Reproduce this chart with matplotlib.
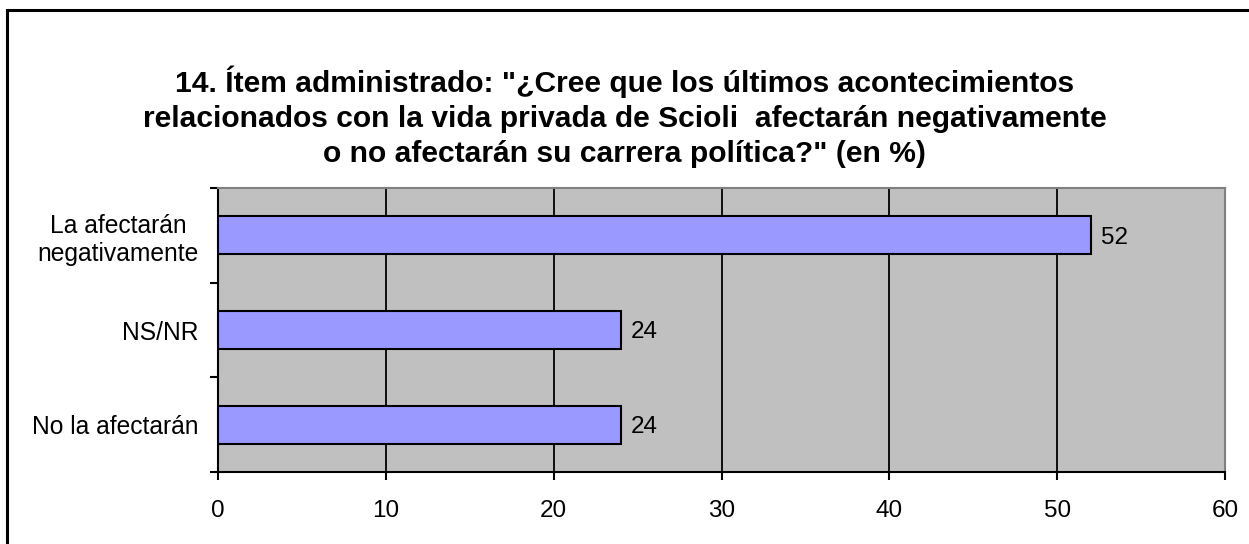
import matplotlib
matplotlib.use("Agg")
import matplotlib.pyplot as plt
from matplotlib.patches import Rectangle

plt.rcParams['font.family'] = ['Liberation Sans', 'DejaVu Sans']

categories = ["No la afectarán", "NS/NR", "La afectarán\nnegativamente"]
values = [24, 24, 52]
xticks = [0, 10, 20, 30, 40, 50, 60]

title = ('14. Ítem administrado: "¿Cree que los últimos acontecimientos\n'
         'relacionados con la vida privada de Scioli  afectarán negativamente\n'
         'o no afectarán su carrera política?" (en %)')

fig = plt.figure(figsize=(12.49, 5.44), dpi=100)
ax = fig.add_axes([218 / 1249, 72 / 544, 1007 / 1249, 284 / 544])

# marco exterior del grafico (solo se ven arriba e izquierda)
fig.patches.append(Rectangle((7 / 1249, -0.1), 1.2, (544 - 10) / 544 + 0.1,
                             transform=fig.transFigure, fill=False,
                             edgecolor='black', linewidth=2.2))

ax.set_facecolor('#C0C0C0')
ypos = range(len(categories))
ax.barh(ypos, values, height=0.4, color='#9999FF', edgecolor='black',
        linewidth=1.5, zorder=3)
for y, v in zip(ypos, values):
    ax.text(v + 0.6, y, str(v), va='center_baseline', ha='left', fontsize=17.5, zorder=4)

ax.set_xlim(0, 60)
ax.set_ylim(-0.5, 2.5)
ax.set_xticks(xticks)
ax.set_xticklabels([str(t) for t in xticks])
ax.set_yticks(list(ypos))
ax.set_yticklabels(categories, multialignment='center')
ax.set_yticks([-0.5, 0.5, 1.5, 2.5], minor=True)

ax.tick_params(axis='x', length=6, width=1.5, pad=14.5, labelsize=17.5, direction='out')
ax.tick_params(axis='y', which='major', length=0, pad=14, labelsize=17.75)
ax.tick_params(axis='y', which='minor', length=6, width=1.5, direction='out')

ax.grid(axis='x', color='black', linewidth=1.3, zorder=1)
ax.set_axisbelow(True)

for side in ['top', 'right']:
    ax.spines[side].set_color('#808080')
    ax.spines[side].set_linewidth(1.5)
for side in ['left', 'bottom']:
    ax.spines[side].set_color('black')
    ax.spines[side].set_linewidth(1.5)

fig.text(0.5, (544 - 117) / 544, title, ha='center', va='center',
         fontsize=21.6, fontweight='bold', linespacing=1.32)

fig.savefig("out.png", dpi=100)
